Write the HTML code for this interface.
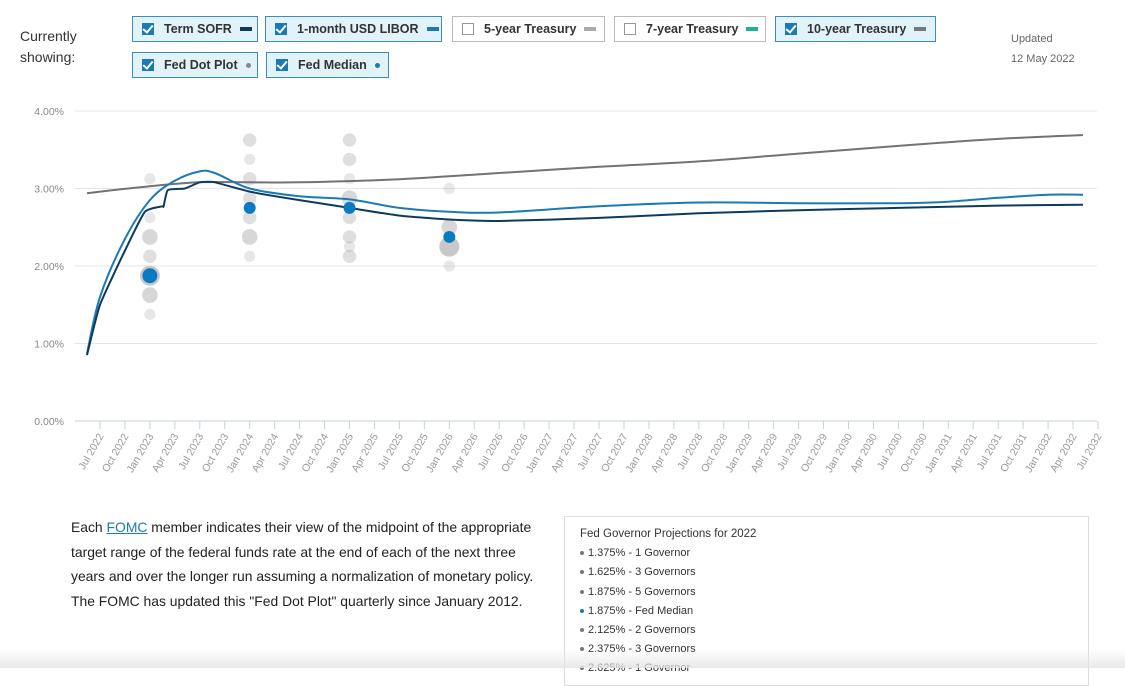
<!DOCTYPE html>
<html><head><meta charset="utf-8"><style>
body{margin:0;width:1125px;height:668px;overflow:hidden;background:#fff;font-family:"Liberation Sans",sans-serif;color:#333;position:relative}
.lbl{position:absolute;left:20px;top:26px;font-size:14px;line-height:21px;color:#333}
.btn{position:absolute;height:26px;box-sizing:border-box;border:1px solid #3b8dba;background:#e2f2f9;font-size:12.5px;font-weight:bold;color:#333;display:flex;align-items:center;padding-left:9px}
.btn.off{background:#fff;border-color:#bbb}
.cb{width:12px;height:12px;background:#1a7ab5;margin-right:10px;position:relative;flex:none}
.cb:after{content:"";position:absolute;left:3px;top:0px;width:4px;height:8px;border:solid #fff;border-width:0 2px 2px 0;transform:rotate(40deg)}
.off .cb{background:#fff;border:1px solid #999;box-sizing:border-box}
.off .cb:after{display:none}
.sw{display:inline-block;width:12px;height:4px;margin-left:8px}
.dt{display:inline-block;width:5px;height:5px;border-radius:50%;margin-left:8px}
.upd{position:absolute;left:1011px;top:29px;font-size:11px;line-height:20px;color:#666}
.para{position:absolute;left:71px;top:515px;width:470px;font-size:13.9px;line-height:24.7px;color:#222}
.para a{color:#1a7ab5;text-decoration:underline}
.box{position:absolute;left:564px;top:516px;width:525px;height:170px;border:1px solid #ddd;font-size:11px;color:#333;padding:8px 0 0 15px;box-sizing:border-box}
.box div{height:19.2px;line-height:19px}
.box span.b{display:inline-block;width:4px;height:4px;border-radius:50%;background:#777;margin-right:4px;vertical-align:middle}
.fade{position:absolute;left:0;top:650px;width:1125px;height:18px;background:linear-gradient(rgba(255,255,255,0),rgba(228,228,228,.85))}
</style></head><body>
<div class="lbl">Currently<br>showing:</div>
<div class="btn" style="left:132px;top:16px;width:126px"><span class="cb"></span>Term SOFR<span class="sw" style="background:#0d3b60"></span></div>
<div class="btn" style="left:265px;top:16px;width:177px"><span class="cb"></span>1-month USD LIBOR<span class="sw" style="background:#1a7ab5"></span></div>
<div class="btn off" style="left:452px;top:16px;width:153px"><span class="cb"></span>5-year Treasury<span class="sw" style="background:#aaa"></span></div>
<div class="btn off" style="left:614px;top:16px;width:152px"><span class="cb"></span>7-year Treasury<span class="sw" style="background:#1fae9a"></span></div>
<div class="btn" style="left:775px;top:16px;width:161px"><span class="cb"></span>10-year Treasury<span class="sw" style="background:#777"></span></div>
<div class="btn" style="left:132px;top:52px;width:126px"><span class="cb"></span>Fed Dot Plot<span class="dt" style="background:#888"></span></div>
<div class="btn" style="left:266px;top:52px;width:123px"><span class="cb"></span>Fed Median<span class="dt" style="background:#1a7ab5"></span></div>
<div class="upd">Updated<br>12 May 2022</div>
<svg id="ch" width="1125" height="510" style="position:absolute;left:0;top:0"></svg>
<div class="para">Each <a>FOMC</a> member indicates their view of the midpoint of the appropriate target range of the federal funds rate at the end of each of the next three years and over the longer run assuming a normalization of monetary policy. The FOMC has updated this "Fed Dot Plot" quarterly since January 2012.</div>
<div class="box">
<div style="font-size:11.5px">Fed Governor Projections for 2022</div>
<div><span class="b"></span>1.375% - 1 Governor</div>
<div><span class="b"></span>1.625% - 3 Governors</div>
<div><span class="b"></span>1.875% - 5 Governors</div>
<div><span class="b" style="background:#1a7ab5"></span>1.875% - Fed Median</div>
<div><span class="b"></span>2.125% - 2 Governors</div>
<div><span class="b"></span>2.375% - 3 Governors</div>
<div><span class="b"></span>2.625% - 1 Governor</div>
</div>
<div class="fade"></div>
<script>
const yTicks=[0,1,2,3,4];
const quarterLabels=[];
const months=["Jan","Apr","Jul","Oct"];
for(let i=0;i<=40;i++){const m=(2+i)%4,yr=2022+Math.floor((2+i)/4);quarterLabels.push(months[m]+" "+yr);}
const sofrQ=[-0.52,0,1,1.8,2.5,2.55,2.72,3.4,4,4.6,6,8,10,12,14,16,20,24,28,32,36,39.4];
const sofrV=[0.85,1.5,2.2,2.7,2.77,2.77,2.98,3.0,3.08,3.08,2.96,2.85,2.75,2.65,2.6,2.58,2.62,2.68,2.72,2.75,2.78,2.79];
const liborQ=[-0.52,0,1,2,3,4,4.6,6,8,10,12,14,16,20,24,28,32,34,36,38,39.4];
const liborV=[0.87,1.6,2.35,2.85,3.1,3.22,3.2,3.0,2.9,2.86,2.75,2.7,2.69,2.77,2.82,2.81,2.81,2.83,2.88,2.92,2.92];
const t10Q=[-0.52,2,4,6,8,12,16,20,24,28,32,36,39.4];
const t10V=[2.94,3.03,3.08,3.08,3.08,3.12,3.2,3.28,3.35,3.45,3.55,3.64,3.69];
const dotQ=[2,2,2,2,2,2,2, 6,6,6,6,6,6,6, 10,10,10,10,10,10,10,10,10, 14,14,14,14];
const dotV=[1.375,1.625,1.875,2.125,2.375,2.625,3.125, 2.125,2.375,2.625,2.875,3.125,3.375,3.625, 2.125,2.25,2.375,2.625,2.875,3.125,3.375,3.625,2.75, 2.0,2.25,2.5,3.0];
const dotN=[1,3,5,2,3,1,1, 1,3,2,2,2,1,2, 2,1,2,2,3,1,2,2,1, 1,5,3,1];
const medQ=[2,6,10,14];
const medV=[1.875,2.75,2.75,2.375];
const x=q=>100+q*24.95, y=v=>421-v*77.5;
const svg=document.getElementById('ch'),NS="http://www.w3.org/2000/svg";
function el(t,a){const e=document.createElementNS(NS,t);for(const k in a)e.setAttribute(k,a[k]);svg.appendChild(e);return e;}
yTicks.forEach(v=>{
 const g=el('line',{x1:75,x2:1097,y1:y(v),y2:y(v),stroke:v===0?'#c5d3dc':'#e6e6e6','stroke-width':1});
 
 
 const t=el('text',{x:64,y:y(v)+4,'text-anchor':'end','font-size':10.5,fill:'#888','font-family':'Liberation Sans'});
 t.textContent=v.toFixed(2)+"%";
 
 
});
quarterLabels.forEach((s,i)=>{
 const tk=el('line',{x1:x(i),x2:x(i),y1:421,y2:429,stroke:'#c5d3dc'});
 
 
 const t=el('text',{transform:`translate(${x(i)+4},436) rotate(-60)`,'text-anchor':'end','font-size':10.5,fill:'#999','font-family':'Liberation Sans'});
 t.textContent=s;
 
 
});
dotQ.forEach((q,i)=>{
 const n=dotN[i];
 const c=el('circle',{cx:x(q),cy:y(dotV[i]),r:4.5+n*1.1,fill:'#b0b0b0','fill-opacity':0.2+n*0.1});
 
 
});
function path(Q,V,col,name,tension){
 const P=Q.map((q,i)=>[x(q),y(V[i])]);
 let d='M'+P[0][0].toFixed(1)+','+P[0][1].toFixed(1);
 const k=tension/6;
 for(let i=0;i<P.length-1;i++){
  const p0=P[Math.max(0,i-1)],p1=P[i],p2=P[i+1],p3=P[Math.min(P.length-1,i+2)];
  const c1=[p1[0]+(p2[0]-p0[0])*k,p1[1]+(p2[1]-p0[1])*k];
  const c2=[p2[0]-(p3[0]-p1[0])*k,p2[1]-(p3[1]-p1[1])*k];
  d+='C'+c1.map(v=>v.toFixed(1)).join(',')+' '+c2.map(v=>v.toFixed(1)).join(',')+' '+p2[0].toFixed(1)+','+p2[1].toFixed(1);
 }
 const p=el('path',{d:d,fill:'none',stroke:col,'stroke-width':2,'stroke-linejoin':'round'});
 
 
}
path(t10Q,t10V,'#737373','10-year-treasury-line',1);
path(liborQ,liborV,'#1a7ab5','libor-line',1);
path(sofrQ,sofrV,'#0d3b60','term-sofr-line',0.5);
medQ.forEach((q,i)=>{
 const c=el('circle',{cx:x(q),cy:y(medV[i]),r:i===0?7.5:6,fill:'#0a7bc0'});
 
 
});
</script>
</body></html>
